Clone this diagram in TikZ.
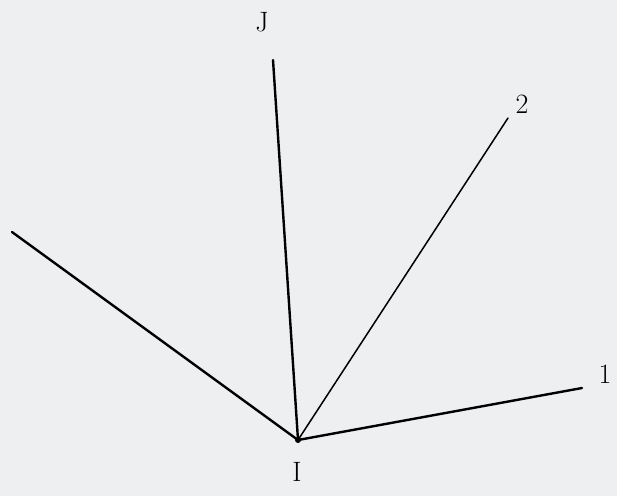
\documentclass[tikz,border=0pt]{standalone}
\usepackage{tikz}
\usetikzlibrary{calc}
\definecolor{paper}{HTML}{EEEFF1}

\begin{document}
\begin{tikzpicture}[
    x=1pt, y=-1pt,
    lbl/.style={font=\fontsize{28}{30}\selectfont, inner sep=0pt},
    ray/.style={line width=2.4pt, line cap=round},
    thinray/.style={line width=1.5pt, line cap=round}
]
\fill[paper] (0,0) rectangle (617,496);
\useasboundingbox (0,0) rectangle (617,496);
\coordinate (o) at (298,440);
\coordinate (tj) at (273,60);
\coordinate (t2) at (508,118);
\coordinate (tl) at (12,232);
\coordinate (t1) at (582,388);
\node[lbl] (lj) at (262,22) {J};
\node[lbl] (l2) at (522,104) {2};
\node[lbl] (li) at (297,472) {I};
\node[lbl] (l1) at (605,374) {1};
\draw[ray] (o) -- (tj);
\draw[thinray] (o) -- (t2);
\draw[ray] (o) -- (tl);
\draw[ray] (o) -- (t1);
\fill (o) circle (3);
\end{tikzpicture}
\end{document}
